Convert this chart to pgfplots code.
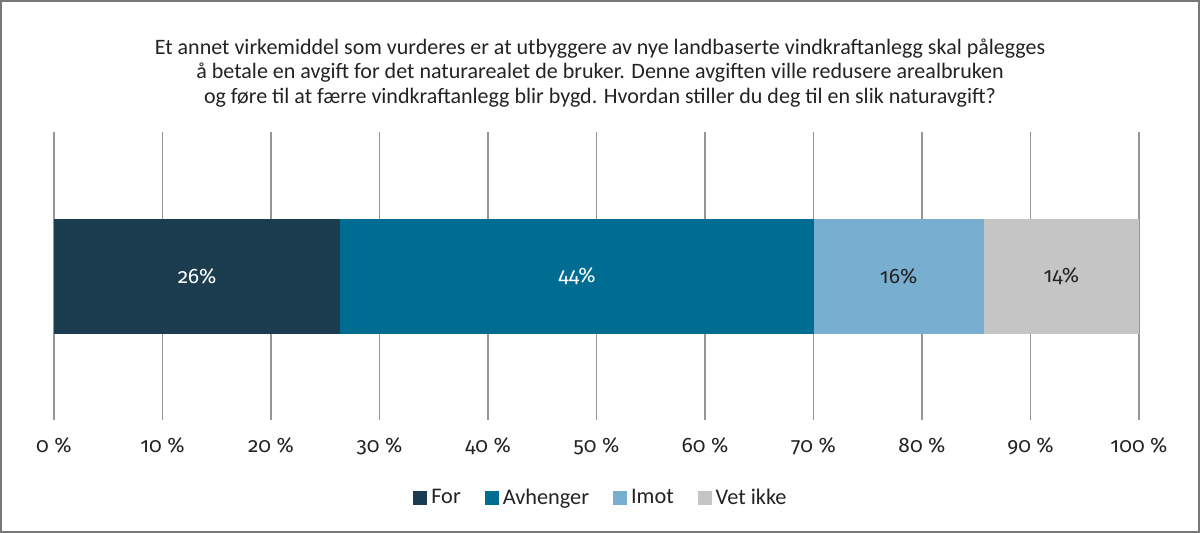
\documentclass[border=0pt]{standalone}
\usepackage{pgfplots}
\pgfplotsset{compat=1.18}
\usepackage{fontspec}
\setmainfont{Carlito}
\newfontfamily\numfont{Fira Sans}[Numbers=OldStyle]
\definecolor{cFor}{RGB}{27,61,79}
\definecolor{cAvh}{RGB}{0,108,145}
\definecolor{cImot}{RGB}{120,174,207}
\definecolor{cVet}{RGB}{197,197,197}
\definecolor{gridgray}{RGB}{150,150,150}
\definecolor{bordergray}{RGB}{120,120,120}
\definecolor{textgray}{RGB}{35,35,35}
\begin{document}
\begin{tikzpicture}
\useasboundingbox (0bp,0bp) rectangle (600bp,-266.5bp);
\draw[color=bordergray, line width=1bp] (0.5bp,-0.5bp) rectangle (599.5bp,-266bp);
\node[align=center, font=\fontsize{11.05}{12.5}\selectfont, text=textgray] at (300bp,-36.5bp)
 {Et annet virkemiddel som vurderes er at utbyggere av nye landbaserte vindkraftanlegg skal pålegges\\
  å betale en avgift for det naturarealet de bruker. Denne avgiften ville redusere arealbruken\\
  og føre til at færre vindkraftanlegg blir bygd. Hvordan stiller du deg til en slik naturavgift?};
\begin{axis}[
  at={(27bp,-210bp)}, anchor=south west, scale only axis,
  width=542.5bp, height=144bp,
  xmin=0, xmax=100, ymin=-1, ymax=1,
  xbar stacked, bar width=57.5bp,
  xtick={0,10,...,100}, ytick=\empty,
  xmajorgrids, grid style={color=gridgray, line width=0.7bp},
  axis line style={draw=none}, major tick length=0pt,
  xticklabel={\pgfmathprintnumber{\tick}~\%},
  /pgf/number format/assume math mode=true,
  xticklabel style={font=\numfont\fontsize{10.5}{12}\selectfont, text=textgray, yshift=-5.5bp},
  legend columns=4,
  legend style={at={(0.505,-0.27)}, anchor=center, draw=none,
    font=\fontsize{11.2}{13}\selectfont, text=textgray,
    /tikz/every even column/.append style={column sep=10bp}},
  legend image code/.code={\fill[#1] (0bp,-3.5bp) rectangle (7bp,3.5bp);},
]
\addplot[fill=cFor, draw=none] coordinates {(26.4,0)};
\addplot[fill=cAvh, draw=none] coordinates {(43.6,0)};
\addplot[fill=cImot, draw=none] coordinates {(15.7,0)};
\addplot[fill=cVet, draw=none] coordinates {(14.3,0)};
\legend{For, Avhenger, Imot, Vet ikke}
\end{axis}
\begin{axis}[
  at={(27bp,-210bp)}, anchor=south west, scale only axis,
  width=542.5bp, height=144bp,
  xmin=0, xmax=100, ymin=-1, ymax=1, hide axis,
]
\addplot[draw=none, mark=none, nodes near coords, point meta=explicit symbolic,
  nodes near coords style={anchor=center, font=\numfont\fontsize{10.5}{13}\selectfont, text=white}]
  coordinates {(13.2,0) [26\%] (48.2,0) [44\%]};
\addplot[draw=none, mark=none, nodes near coords, point meta=explicit symbolic,
  nodes near coords style={anchor=center, font=\numfont\fontsize{10.5}{13}\selectfont, text=textgray}]
  coordinates {(77.85,0) [16\%] (92.85,0) [14\%]};
\end{axis}
\end{tikzpicture}
\end{document}
